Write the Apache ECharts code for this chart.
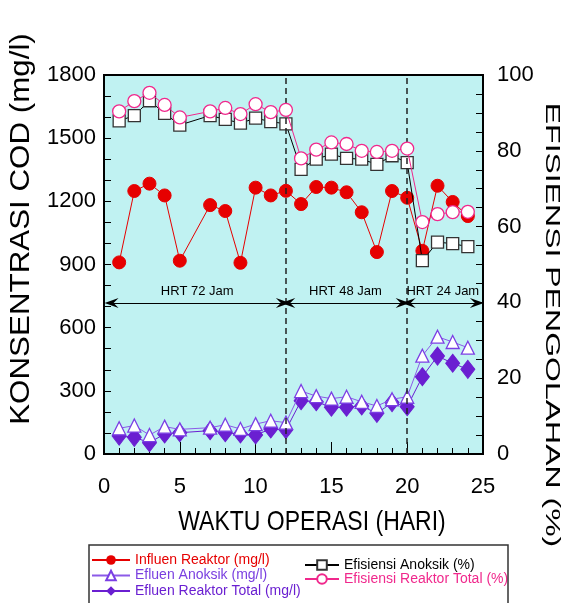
<!DOCTYPE html>
<html>
<head>
<meta charset="utf-8">
<script src="https://cdn.jsdelivr.net/npm/echarts@6/dist/echarts.min.js"></script>
<style>html,body{margin:0;padding:0;background:#fff;}#c{width:564px;height:603px;}</style>
</head>
<body>
<div id="c"></div>
<script>
var days = [1,2,3,4,5,7,8,9,10,11,12,13,14,15,16,17,18,19,20,21,22,23,24];
var influen = [910,1249,1284,1228,918,1182,1154,908,1265,1228,1250,1187,1268,1265,1243,1148,959,1249,1217,965,1274,1197,1130];
var efluenAnoksik = [122,135,90,130,117,125,139,119,142,158,149,299,275,263,272,248,228,260,272,467,557,532,505];
var efluenTotal = [85,79,54,95,101,111,101,95,90,119,115,253,248,222,222,228,193,244,225,367,465,431,402];
var efisiensiAnoksik = [87.9,89.3,93.2,89.9,86.8,89.3,88.3,87.3,88.6,87.7,87.1,75.1,77.8,79.1,78.0,77.8,76.4,78.7,76.9,51.0,55.9,55.5,54.7];
var efisiensiTotal = [90.4,93.1,95.3,92.1,88.8,90.4,91.3,89.7,92.3,90.2,90.8,78.0,80.3,82.2,81.8,80.0,79.7,80.0,80.6,61.2,63.3,63.8,63.9];
var phaseBoundaries = [12, 20];
var phases = [
  {name:'HRT 72 Jam', from:0.5, to:11.8},
  {name:'HRT 48 Jam', from:12.15, to:19.7},
  {name:'HRT 24 Jam', from:20.1, to:24.6}
];
var phaseArrowY = 717;
var xTicks = {min:0, max:25, interval:5};
var yLeftTicks = {min:0, max:1800, interval:300};
var yRightTicks = {min:0, max:100, interval:20};

function pairs(vals){ return days.map(function(d,i){ return [d, vals[i]]; }); }
function plain(v){ return String(v); }

var FONT = 'Liberation Sans';
var chart = echarts.init(document.getElementById('c'), null, {renderer:'canvas'});
var arrowPath = 'path://M5,0 L10,14 L5,9 L0,14 Z';

var option = {
  animation:false,
  textStyle:{fontFamily:FONT},
  grid:{left:104, right:81, top:75, bottom:149, show:true, backgroundColor:'#c0f2f2', borderColor:'#000', borderWidth:2},
  xAxis:{
    type:'value', min:xTicks.min, max:xTicks.max, interval:xTicks.interval,
    axisLine:{show:true, lineStyle:{color:'#000', width:2}},
    axisTick:{show:true, inside:true, length:12, lineStyle:{color:'#000', width:1}},
    minorTick:{show:true, splitNumber:5, length:6, lineStyle:{color:'#000', width:1}},
    splitLine:{show:false},
    axisLabel:{fontSize:22, color:'#000', margin:22, fontFamily:FONT, formatter:plain}
  },
  yAxis:[{
    type:'value', min:yLeftTicks.min, max:yLeftTicks.max, interval:yLeftTicks.interval,
    axisLine:{show:true, lineStyle:{color:'#000', width:2}},
    axisTick:{show:true, inside:true, length:7, lineStyle:{color:'#000', width:1}},
    minorTick:{show:true, splitNumber:3, length:7, lineStyle:{color:'#000', width:1}},
    splitLine:{show:false},
    axisLabel:{fontSize:22, color:'#000', margin:8, fontFamily:FONT, formatter:plain}
  },{
    type:'value', position:'right', min:yRightTicks.min, max:yRightTicks.max, interval:yRightTicks.interval,
    axisLine:{show:true, lineStyle:{color:'#000', width:2}},
    axisTick:{show:true, inside:true, length:7, lineStyle:{color:'#000', width:1}},
    minorTick:{show:true, splitNumber:4, length:7, lineStyle:{color:'#000', width:1}},
    splitLine:{show:false},
    axisLabel:{fontSize:22, color:'#000', margin:14, fontFamily:FONT, formatter:plain}
  }],
  legend:[{
    orient:'vertical', left:91, top:553, padding:0, itemWidth:38, itemHeight:12, itemGap:1.5,
    textStyle:{fontSize:14, lineHeight:14, fontFamily:FONT},
    data:[
      {name:'Influen Reaktor (mg/l)', textStyle:{color:'#e60000'}},
      {name:'Efluen Anoksik (mg/l)', textStyle:{color:'#7a3fe0'}},
      {name:'Efluen Reaktor Total (mg/l)', textStyle:{color:'#6a1fd1'}}
    ]
  },{
    orient:'vertical', left:304, top:558, padding:0, itemWidth:34, itemHeight:12, itemGap:0,
    textStyle:{fontSize:14, lineHeight:14, fontFamily:FONT},
    data:[
      {name:'Efisiensi Anoksik (%)', textStyle:{color:'#000'}},
      {name:'Efisiensi Reaktor Total (%)', textStyle:{color:'#f0288c'}}
    ]
  }],
  graphic:[
    {type:'rect', shape:{x:89, y:545, width:419, height:70}, style:{fill:'none', stroke:'#333', lineWidth:1.5}, z:100},
    {type:'text', x:22, y:229, rotation:Math.PI/2, scaleX:1.16,
      style:{text:'KONSENTRASI COD (mg/l)', font:'27px "Liberation Sans"', fill:'#000', textAlign:'center', textVerticalAlign:'middle'}},
    {type:'text', x:312, y:522, scaleY:1.2,
      style:{text:'WAKTU OPERASI (HARI)', font:'23px "Liberation Sans"', fill:'#000', textAlign:'center', textVerticalAlign:'middle'}},
    {type:'text', x:552, y:325, rotation:-Math.PI/2, scaleX:1.6,
      style:{text:'EFISIENSI PENGOLAHAN (%)', font:'20px "Liberation Sans"', fill:'#000', textAlign:'center', textVerticalAlign:'middle'}}
  ],
  series:[
    {
      name:'Influen Reaktor (mg/l)', type:'line', yAxisIndex:0, data:pairs(influen),
      symbol:'circle', symbolSize:13, z:3,
      lineStyle:{color:'#e60000', width:1}, itemStyle:{color:'#e60000', borderColor:'#e60000'},
      markLine:{
        silent:true, animation:false,
        symbol:'none',
        data: phaseBoundaries.map(function(v){ return {xAxis:v}; }),
        lineStyle:{color:'#222', width:1.5, type:[6,4]},
        label:{show:false}
      }
    },
    {
      name:'Efluen Reaktor Total (mg/l)', type:'line', yAxisIndex:0, data:pairs(efluenTotal),
      symbol:'diamond', symbolSize:[14,18], z:3,
      lineStyle:{color:'#6a1fd1', width:1}, itemStyle:{color:'#6a1fd1', borderColor:'#6a1fd1'},
      markLine:{
        silent:true, animation:false,
        symbol:[arrowPath, arrowPath], symbolSize:[10,14],
        lineStyle:{color:'#000', width:1.2, type:'solid'},
        label:{show:true, formatter:'{b}', position:'insideMiddleTop', distance:5, color:'#000', fontSize:13, fontFamily:FONT},
        data: phases.map(function(p){ return [{name:p.name, coord:[p.from, phaseArrowY]}, {coord:[p.to, phaseArrowY]}]; })
      }
    },
    {
      name:'Efluen Anoksik (mg/l)', type:'line', yAxisIndex:0, data:pairs(efluenAnoksik),
      symbol:'triangle', symbolSize:13, z:4,
      lineStyle:{color:'#8c5ae8', width:1}, itemStyle:{color:'#fff', borderColor:'#7b3fe4', borderWidth:1.3}
    },
    {
      name:'Efisiensi Anoksik (%)', type:'line', yAxisIndex:1, data:pairs(efisiensiAnoksik),
      symbol:'rect', symbolSize:12, z:4,
      lineStyle:{color:'#000', width:1}, itemStyle:{color:'#fff', borderColor:'#333', borderWidth:1.3}
    },
    {
      name:'Efisiensi Reaktor Total (%)', type:'line', yAxisIndex:1, data:pairs(efisiensiTotal),
      symbol:'circle', symbolSize:13, z:5,
      lineStyle:{color:'#f0288c', width:1}, itemStyle:{color:'#fff', borderColor:'#f0288c', borderWidth:1.3}
    }
  ]
};
chart.setOption(option);
</script>
</body>
</html>
